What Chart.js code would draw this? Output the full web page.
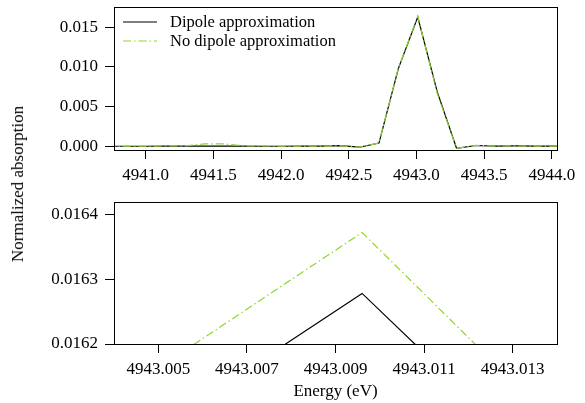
<!DOCTYPE html>
<html>
<head>
<meta charset="utf-8">
<script src="https://cdn.jsdelivr.net/npm/chart.js@4.4.0/dist/chart.umd.min.js"></script>
<style>
  body { margin: 0; background: #fff; }
  #wrap { position: relative; width: 585px; height: 403px; background: #fff; overflow: hidden; }
  #wrap canvas { position: absolute; left: 0; }
  #topChart { top: 0; }
  #zoomChart { top: 185px; }
  #yTitle {
    position: absolute; left: 18px; top: 184px;
    transform: translate(-50%, -50%) rotate(-90deg);
    font: 17px 'Liberation Serif', serif; color: #000; white-space: nowrap;
  }
</style>
</head>
<body>
<div id="wrap">
  <canvas id="topChart" width="585" height="185"></canvas>
  <canvas id="zoomChart" width="585" height="218"></canvas>
  <div id="yTitle">Normalized absorption</div>
</div>
<script>
// data
const energy = [4940.717, 4940.860, 4941.003, 4941.147, 4941.290, 4941.433, 4941.577,
    4941.720, 4941.863, 4942.006, 4942.150, 4942.293, 4942.436, 4942.580, 4942.723,
    4942.866, 4943.0096, 4943.153, 4943.296, 4943.440, 4943.583, 4943.726, 4943.870,
    4944.013, 4944.156];
const dipole = [0, 0, 0, 0.00001, 0.00002, 0.00002, 0.00001, 0.00001, 0, 0, 0.00001,
    0.00002, 0.00007, -0.00012, 0.00040, 0.00979, 0.016278, 0.00688, -0.00025, 0.00010,
    0.00002, 0.00004, 0.00001, 0.00002, 0.00001];
const noDipole = [0, 0, 0.00001, 0.00004, 0.00005, 0.00030, 0.00030, 0.00005, 0.00004,
    0.00002, 0.00001, 0.00002, 0.00007, -0.00012, 0.00042, 0.00984, 0.016372, 0.00669,
    -0.00026, 0.00011, 0.00003, 0.00004, 0.00001, 0.00002, 0.00001];
const seriesNames = ['Dipole approximation', 'No dipole approximation'];

const topXTicks = [4941.0, 4941.5, 4942.0, 4942.5, 4943.0, 4943.5, 4944.0];
const topYTicks = [0, 0.005, 0.010, 0.015];
const zoomXTicks = [4943.005, 4943.007, 4943.009, 4943.011, 4943.013];
const zoomYTicks = [0.0162, 0.0163, 0.0164];

const GREEN = '#8cd82a';

Chart.defaults.font.family = "'Liberation Serif', 'Times New Roman', serif";
Chart.defaults.font.size = 17;
Chart.defaults.color = '#000';

const toPoints = ys => energy.map((x, i) => ({ x: x, y: ys[i] }));

const makeDatasets = () => [
    {
        label: seriesNames[0],
        data: toPoints(dipole),
        borderColor: '#000',
        borderWidth: 1.2,
        pointRadius: 0,
        tension: 0,
        order: 2
    },
    {
        label: seriesNames[1],
        data: toPoints(noDipole),
        borderColor: GREEN,
        borderWidth: 1.2,
        borderDash: [8, 3, 1.5, 3],
        pointRadius: 0,
        tension: 0,
        order: 1
    }
];

// full box round the plot area
const frameBox = {
    id: 'frameBox',
    afterDraw(chart) {
        const { ctx, chartArea } = chart;
        const l = Math.round(chartArea.left) + 0.5;
        const t = Math.round(chartArea.top) + 0.5;
        const r = Math.round(chartArea.right) + 0.5;
        const b = Math.round(chartArea.bottom) + 0.5;
        ctx.save();
        ctx.strokeStyle = '#000';
        ctx.lineWidth = 1;
        ctx.setLineDash([]);
        ctx.strokeRect(l, t, r - l, b - t);
        ctx.restore();
    }
};

// legend inside the top plot
const innerLegend = {
    id: 'innerLegend',
    afterDraw(chart) {
        const { ctx, chartArea } = chart;
        ctx.save();
        chart.data.datasets.forEach((ds, i) => {
            const y = chartArea.top + 15 + i * 19;
            ctx.beginPath();
            ctx.setLineDash(ds.borderDash || []);
            ctx.strokeStyle = ds.borderColor;
            ctx.lineWidth = ds.borderWidth;
            ctx.moveTo(chartArea.left + 9, y);
            ctx.lineTo(chartArea.left + 43, y);
            ctx.stroke();
            ctx.setLineDash([]);
            ctx.fillStyle = '#000';
            ctx.font = "16.5px 'Liberation Serif', serif";
            ctx.textBaseline = 'middle';
            ctx.fillText(ds.label, chartArea.left + 56, y + 1);
        });
        ctx.restore();
    }
};

const axisStyle = {
    grid: { drawOnChartArea: false, drawTicks: true, tickLength: 9, color: '#000', lineWidth: 1 },
    border: { display: false }
};

const buildChart = (id, cfg) => new Chart(document.getElementById(id), {
    type: 'line',
    data: { datasets: makeDatasets() },
    plugins: cfg.plugins,
    options: {
        responsive: false,
        animation: false,
        devicePixelRatio: 1,
        layout: { padding: cfg.padding },
        plugins: { legend: { display: false }, tooltip: { enabled: false } },
        scales: {
            x: {
                type: 'linear',
                min: cfg.xMin,
                max: cfg.xMax,
                ...axisStyle,
                afterBuildTicks: s => { s.ticks = cfg.xTicks.map(v => ({ value: v })); },
                afterFit: s => { s.height = cfg.xHeight; },
                ticks: { autoSkip: false, maxRotation: 0, padding: 6, callback: v => v.toFixed(cfg.xDigits) },
                title: cfg.xTitle ? { display: true, text: cfg.xTitle, padding: { top: 0, bottom: 1 } } : { display: false }
            },
            y: {
                type: 'linear',
                min: cfg.yMin,
                max: cfg.yMax,
                ...axisStyle,
                afterBuildTicks: s => { s.ticks = cfg.yTicks.map(v => ({ value: v })); },
                afterFit: s => {
                    s.width = 114;
                    s.paddingTop = 0;
                    s.paddingBottom = 0;
                },
                ticks: { autoSkip: false, padding: 7, callback: v => v.toFixed(cfg.yDigits) }
            }
        }
    }
});

document.addEventListener('DOMContentLoaded', () => {
    buildChart('topChart', {
        plugins: [frameBox, innerLegend],
        padding: { top: 7, right: 28, bottom: 0, left: 0 },
        xMin: 4940.766, xMax: 4944.038, xTicks: topXTicks, xDigits: 1, xHeight: 35,
        yMin: -0.00047, yMax: 0.01755, yTicks: topYTicks, yDigits: 3
    });
    buildChart('zoomChart', {
        plugins: [frameBox],
        padding: { top: 17, right: 28, bottom: 0, left: 0 },
        xMin: 4943.004, xMax: 4943.014, xTicks: zoomXTicks, xDigits: 3, xHeight: 59,
        xTitle: 'Energy (eV)',
        yMin: 0.0162, yMax: 0.016419, yTicks: zoomYTicks, yDigits: 4
    });
});
</script>
</body>
</html>
